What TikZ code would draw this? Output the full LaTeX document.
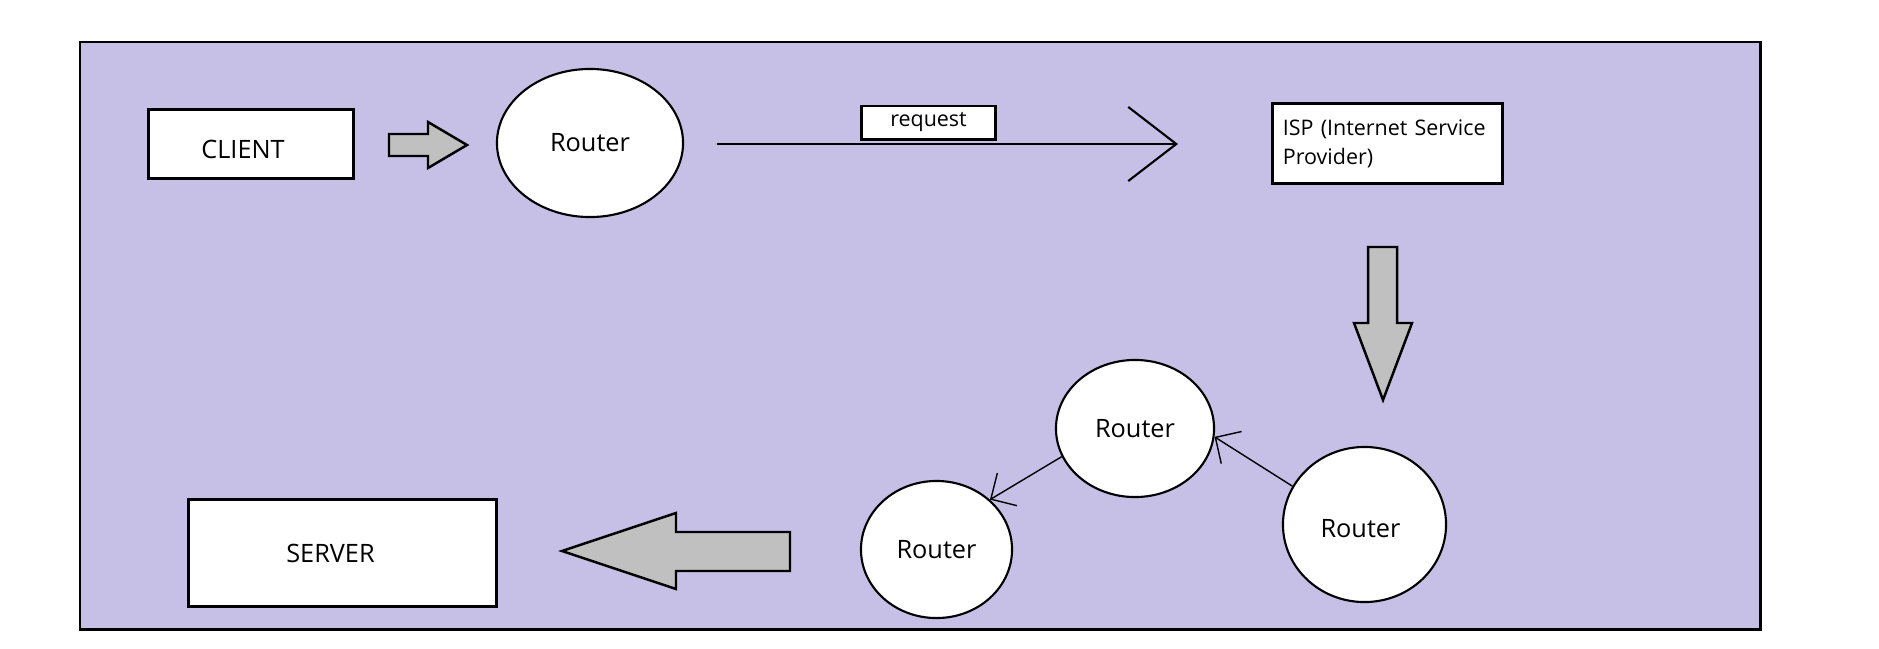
\documentclass[tikz,border=0pt]{standalone}
\usepackage{fontspec}
\setmainfont{Open Sans}
\usepackage{tikz}
\usetikzlibrary {arrows.meta,
                 positioning,
                 shapes.geometric}
\definecolor{lavender}{RGB}{198,191,230}
\definecolor{arrowgray}{RGB}{192,192,192}
\tikzset{
        base/.style={draw, fill=white, align=center, inner sep=0pt,
                     font=\fontsize{7.2}{8.5}\selectfont},
        box/.style={base, rectangle, line width=0.85pt},
        smalltext/.style={font=\fontsize{6.1}{8.25}\selectfont},
        router/.style={base, ellipse, line width=0.6pt},
        blockarrow/.style={draw, fill=arrowgray, line width=0.7pt},
        reqarrow/.style={-{Straight Barb[length=0.48cm, width=0.74cm]}, line width=0.6pt},
        hoparrow/.style={-{Straight Barb[length=0.19cm, width=0.38cm]}, line width=0.4pt},
 }
\begin{document}
\begin{tikzpicture}[x=0.01cm, y=-0.01cm]
    \useasboundingbox (0,0) rectangle (1879,648);
    \draw[fill=lavender, line width=0.85pt] (80,42) rectangle (1760,629);

    \node[box, minimum width=2.04cm, minimum height=0.68cm] (client) at (251,144)
        {\raisebox{-0.05cm}[\height][\depth]{CLIENT}\kern0.16cm};
    \node[router, minimum width=1.86cm, minimum height=1.48cm] (r1) at (590,143) {Router};
    \node[box, smalltext, minimum width=1.33cm, minimum height=0.33cm] (req) at (928.5,122.5) {request};
    \node[box, smalltext, align=left, text width=2.09cm, inner xsep=0.1cm,
          minimum height=0.79cm] (isp) at (1387.5,143.5) {ISP (Internet Service\\Provider)};
    \node[router, minimum width=1.58cm, minimum height=1.37cm] (r2) at (1135,428.5) {Router};
    \node[router, minimum width=1.63cm, minimum height=1.55cm] (r3) at (1364.5,524.5)
        {\raisebox{-0.04cm}[\height][\depth]{Router}\kern0.08cm};
    \node[router, minimum width=1.51cm, minimum height=1.37cm] (r4) at (936.5,549.5) {Router};
    \node[box, minimum width=3.07cm, minimum height=1.06cm] (server) at (342.5,553)
        {SERVER\kern0.24cm};

    \coordinate (reqstart) at (717,144);
    \coordinate (reqend) at (1178,144);
    \draw[reqarrow] (reqstart) -- (reqend);

    \draw[hoparrow] (r3.152) -- (r2.-6);
    \draw[hoparrow] (r2.201) -- (r4.43);

    \draw[blockarrow] (389,134) -- (428,134) -- (428,122) -- (467,145) -- (428,168)
                      -- (428,156) -- (389,156) -- cycle;
    \draw[blockarrow] (1368,247) -- (1397,247) -- (1397,323) -- (1412,323) -- (1383,400)
                      -- (1354,323) -- (1368,323) -- cycle;
    \draw[blockarrow] (790,532) -- (676,532) -- (676,513) -- (562,551) -- (676,589)
                      -- (676,571) -- (790,571) -- cycle;
\end{tikzpicture}
\end{document}
